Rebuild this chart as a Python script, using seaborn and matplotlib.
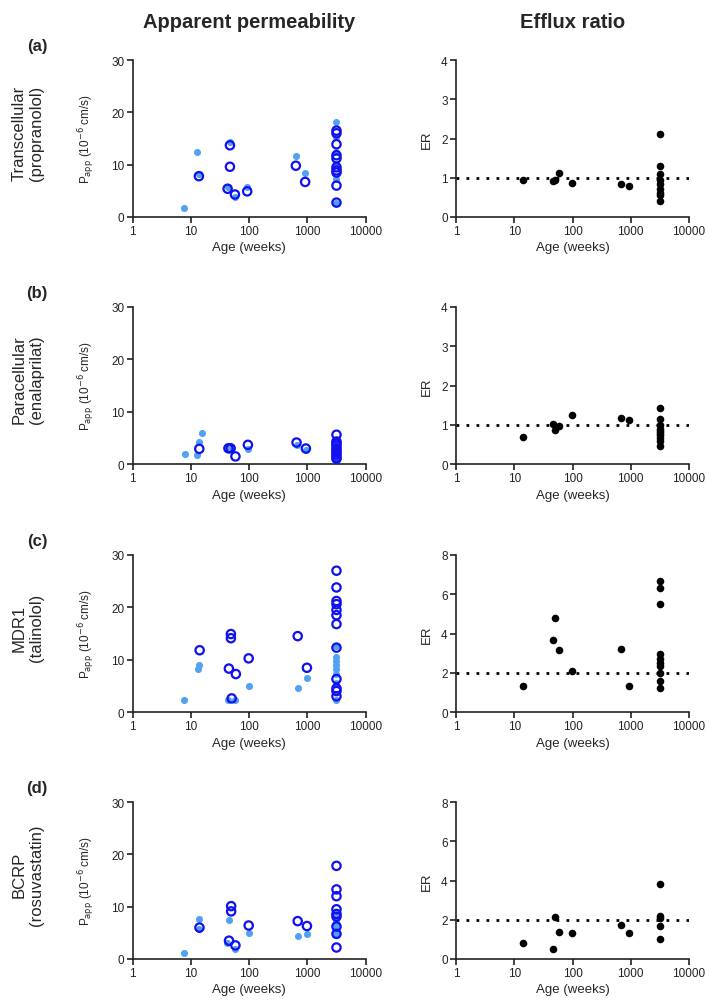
import numpy as np
import pandas as pd
import seaborn as sns
import matplotlib.pyplot as plt
from matplotlib import ticker

# ---- data ----
age_ticks = [1, 10, 100, 1000, 10000]
age_tick_labels = ['1', '10', '100', '1000', '10000']

row_tags = ['(a)', '(b)', '(c)', '(d)']
row_names = ['Transcellular\n(propranolol)', 'Paracellular\n(enalaprilat)',
             'MDR1\n(talinolol)', 'BCRP\n(rosuvastatin)']
er_refs = [1, 1, 2, 2]
er_tops = [4, 4, 8, 8]

# (a) propranolol
a_fill_age = [7.6, 12.7, 13.7, 46.7, 42.6, 56.9, 92.4, 632, 913, 3150, 3150, 3150, 3150, 3150, 3150]
a_fill_papp = [1.8, 12.5, 8.3, 14.4, 5.8, 3.9, 5.7, 11.6, 8.4, 18.1, 15.2, 12.5, 10.2, 7.3, 2.6]
a_open_age = [13.7, 46.7, 46.7, 42.6, 56.9, 92.4, 632, 913,
              3150, 3150, 3150, 3150, 3150, 3150, 3150, 3150, 3150, 3150]
a_open_papp = [7.8, 13.7, 9.6, 5.4, 4.3, 4.9, 9.8, 6.7,
               16.5, 16.0, 13.9, 11.8, 11.2, 9.5, 8.9, 8.5, 6.0, 2.75]
a_er_age = [14.3, 46, 50.4, 59.2, 98.7, 677, 938,
            3150, 3150, 3150, 3150, 3150, 3150, 3150, 3150, 3150]
a_er = [0.94, 0.92, 0.94, 1.13, 0.87, 0.83, 0.80,
        2.12, 1.3, 1.1, 0.95, 0.85, 0.72, 0.6, 0.55, 0.42]

# (b) enalaprilat
b_fill_age = [7.9, 12.9, 13.9, 15.6, 46.7, 95, 650, 940, 3150, 3150, 3150, 3150]
b_fill_papp = [1.9, 1.7, 4.2, 5.9, 3.3, 2.9, 3.6, 2.7, 4.6, 3.3, 2.4, 1.5]
b_open_age = [13.9, 44, 48, 58, 95, 650, 940,
              3150, 3150, 3150, 3150, 3150, 3150, 3150, 3150, 3150, 3150]
b_open_papp = [2.9, 3.0, 3.0, 1.45, 3.66, 4.1, 2.96,
               5.6, 4.3, 3.9, 3.5, 3.0, 2.6, 2.2, 1.8, 1.3, 1.0]
b_er_age = [14.3, 46, 50, 59, 98, 677, 938,
            3150, 3150, 3150, 3150, 3150, 3150, 3150, 3150, 3150, 3150]
b_er = [0.70, 1.03, 0.87, 0.98, 1.24, 1.18, 1.12,
        1.42, 1.15, 1.0, 0.9, 0.85, 0.8, 0.75, 0.65, 0.58, 0.45]

# (c) talinolol
c_fill_age = [7.6, 13.8, 13.4, 44, 58, 98, 680, 980,
              3150, 3150, 3150, 3150, 3150, 3150, 3150, 3150]
c_fill_papp = [2.3, 9.0, 8.2, 2.2, 2.3, 4.9, 4.5, 6.5,
               12.6, 10.5, 9.8, 9.0, 8.3, 7.2, 5.5, 2.3]
c_open_age = [14.1, 48.5, 48.5, 44.8, 59, 50, 98, 680, 980,
              3150, 3150, 3150, 3150, 3150, 3150, 3150, 3150, 3150, 3150, 3150, 3150]
c_open_papp = [11.8, 14.9, 14.1, 8.3, 7.25, 2.6, 10.25, 14.5, 8.45,
               27.0, 23.8, 21.2, 20.6, 19.5, 18.5, 16.8, 12.3, 6.3, 4.5, 4.0, 3.0]
c_er_age = [14.3, 50, 46, 59, 98, 677, 938,
            3150, 3150, 3150, 3150, 3150, 3150, 3150, 3150, 3150, 3150]
c_er = [1.31, 4.8, 3.68, 3.14, 2.09, 3.19, 1.31,
        6.65, 6.3, 5.5, 2.95, 2.7, 2.5, 2.35, 2.0, 1.6, 1.2]

# (d) rosuvastatin
d_fill_age = [7.6, 14, 13.5, 45, 42, 58, 98, 680, 980, 3150, 3150, 3150, 3150, 3150, 3150]
d_fill_papp = [1.2, 7.7, 5.8, 7.5, 3.0, 2.0, 4.9, 4.3, 4.8, 8.0, 7.0, 6.5, 5.5, 5.0, 4.5]
d_open_age = [14, 49, 49, 45, 58, 98, 680, 980,
              3150, 3150, 3150, 3150, 3150, 3150, 3150, 3150, 3150]
d_open_papp = [6.0, 10.1, 9.1, 3.5, 2.6, 6.4, 7.24, 6.3,
               17.8, 13.3, 12.0, 9.5, 8.6, 8.1, 6.2, 4.8, 2.2]
d_er_age = [14.3, 46, 50, 59, 98, 677, 938, 3150, 3150, 3150, 3150, 3150]
d_er = [0.8, 0.5, 2.14, 1.4, 1.3, 1.74, 1.3, 3.8, 2.2, 2.1, 1.7, 1.0]

fill_ages = [a_fill_age, b_fill_age, c_fill_age, d_fill_age]
fill_papps = [a_fill_papp, b_fill_papp, c_fill_papp, d_fill_papp]
open_ages = [a_open_age, b_open_age, c_open_age, d_open_age]
open_papps = [a_open_papp, b_open_papp, c_open_papp, d_open_papp]
er_ages = [a_er_age, b_er_age, c_er_age, d_er_age]
er_vals = [a_er, b_er, c_er, d_er]

LIGHT = '#52A2F2'
BLUE = '#1010F0'

sns.set_style('ticks')
plt.rcParams['font.family'] = ['Liberation Sans', 'DejaVu Sans']

W, H = 709, 1004
fig = plt.figure(figsize=(W / 100, H / 100), dpi=100)


def px_axes(x0, y_top, w, h):
    return fig.add_axes([x0 / W, 1 - (y_top + h) / H, w / W, h / H])


def style_ax(ax):
    ax.set_xscale('log')
    ax.set_xlim(1, 10000)
    ax.set_xticks(age_ticks, labels=age_tick_labels)
    ax.xaxis.set_minor_locator(ticker.NullLocator())
    for s in ['top', 'right']:
        ax.spines[s].set_visible(False)
    for s in ['left', 'bottom']:
        ax.spines[s].set_linewidth(1.2)
        ax.spines[s].set_color('#222222')
    ax.tick_params(width=1.2, length=4, labelsize=8.5, colors='#222222', pad=2)
    ax.set_xlabel('Age (weeks)', fontsize=9.5, labelpad=3)


row_tops = [61, 308, 556, 803]
ax_h = 157
ax_w = 233

for i in range(4):
    top = row_tops[i]

    # apparent permeability
    ax = px_axes(132.7, top, ax_w, ax_h)
    sns.scatterplot(x=fill_ages[i], y=fill_papps[i], ax=ax, color=LIGHT,
                    s=26, linewidth=0, clip_on=False, zorder=3)
    sns.scatterplot(x=open_ages[i], y=open_papps[i], ax=ax, fc='none', ec=BLUE,
                    s=36, linewidth=1.6, clip_on=False, zorder=4)
    style_ax(ax)
    ax.set_ylim(0, 30)
    ax.set_yticks([0, 10, 20, 30])
    ax.set_ylabel(r'P$_{\mathrm{app}}$ (10$^{-6}$ cm/s)', fontsize=8.5, labelpad=10)

    # efflux ratio
    ax2 = px_axes(456, top, ax_w, ax_h)
    ax2.axhline(er_refs[i], color='black', linestyle=(0, (1, 2.6)), linewidth=2, zorder=2)
    sns.scatterplot(x=er_ages[i], y=er_vals[i], ax=ax2, color='black',
                    s=30, linewidth=0, clip_on=False, zorder=3)
    style_ax(ax2)
    ax2.set_ylim(0, er_tops[i])
    ax2.set_yticks(np.arange(0, er_tops[i] + 1, er_tops[i] // 4))
    ax2.set_ylabel('ER', fontsize=9.5, labelpad=6)

    # row labels
    fig.text(37 / W, 1 - (top - 14) / H, row_tags[i], fontsize=12,
             fontweight='bold', ha='center', va='center')
    fig.text(28 / W, 1 - (top + 72) / H, row_names[i], fontsize=12,
             rotation=90, ha='center', va='center', linespacing=1.15,
             family=['Liberation Sans Narrow', 'DejaVu Sans Condensed', 'Liberation Sans'])

fig.text(249 / W, 1 - 22 / H, 'Apparent permeability', fontsize=14.5,
         fontweight='bold', ha='center', va='center')
fig.text(573 / W, 1 - 22 / H, 'Efflux ratio', fontsize=14.5,
         fontweight='bold', ha='center', va='center')

fig.savefig('out.png', dpi=100)
